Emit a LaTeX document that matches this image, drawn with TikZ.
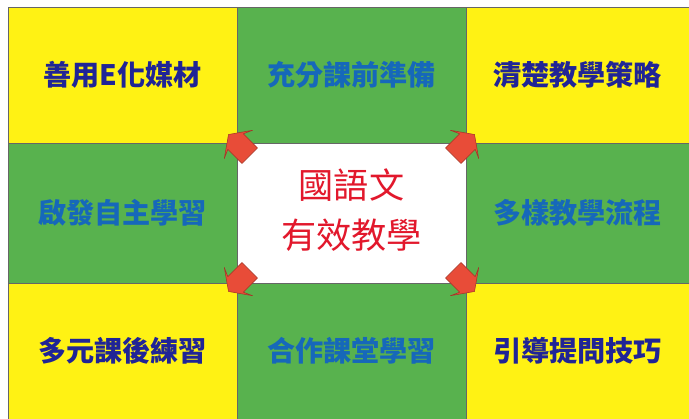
\documentclass[tikz,border=0pt]{standalone}
\usepackage{fontspec}
\newfontfamily\cjk{Noto Sans CJK TC}
\usetikzlibrary{positioning,calc}
\definecolor{cellyellow}{RGB}{255,242,20}
\definecolor{cellgreen}{RGB}{88,178,78}
\definecolor{textnavy}{RGB}{32,36,150}
\definecolor{textblue}{RGB}{22,104,186}
\definecolor{textred}{RGB}{226,24,44}
\definecolor{arrowred}{RGB}{232,76,56}
\tikzset{
  cell/.style={draw=black!60, line width=0.5pt, inner sep=0pt, outer sep=0pt,
    minimum height=2.72cm, font=\cjk\bfseries\fontsize{16}{18}\selectfont},
  ycell/.style={cell, fill=cellyellow, text=textnavy},
  gcell/.style={cell, fill=cellgreen, text=textblue},
  cornerarrow/.style={fill=arrowred, draw=arrowred!70!black, line width=0.3pt, line join=round}
}
\begin{document}
\begin{tikzpicture}
    \useasboundingbox (0,0) rectangle (13.78,8.38);

    % top row
    \node[ycell, minimum width=4.58cm] (tl) at (2.45,6.88) {善用E化媒材};
    \node[gcell, minimum width=4.58cm] (tm) at (7.03,6.88) {充分課前準備};
    \node[ycell, minimum width=4.46cm] (tr) at (11.55,6.88) {清楚教學策略};

    % middle row
    \node[gcell, minimum width=4.58cm, minimum height=2.80cm] (ml) at (2.45,4.12) {啟發自主學習};
    \node[cell, fill=white, minimum width=4.58cm, minimum height=2.80cm] (mid) at (7.03,4.12) {};
    \node[gcell, minimum width=4.46cm, minimum height=2.80cm] (mr) at (11.55,4.12) {多樣教學流程};

    % bottom row
    \node[ycell, minimum width=4.58cm] (bl) at (2.45,1.36) {多元課後練習};
    \node[gcell, minimum width=4.58cm] (bm) at (7.03,1.36) {合作課堂學習};
    \node[ycell, minimum width=4.46cm] (br) at (11.55,1.36) {引導提問技巧};

    % centre title
    \node[align=center, text=textred, font=\cjk\fontsize{20}{28.5}\selectfont] (title)
        at ($(mid.center)+(0,0.06)$) {國語文\\有效教學};

    % arrows at the corners
    \foreach \c/\a in {north west/135, north east/45, south west/225, south east/-45}
        \draw[cornerarrow, shift={(mid.\c)}, rotate=\a]
            (0.24,0) -- (-0.04,0.40) -- (0.04,0.22) -- (-0.36,0.22)
            -- (-0.36,-0.22) -- (0.04,-0.22) -- (-0.04,-0.40) -- cycle;
\end{tikzpicture}
\end{document}
